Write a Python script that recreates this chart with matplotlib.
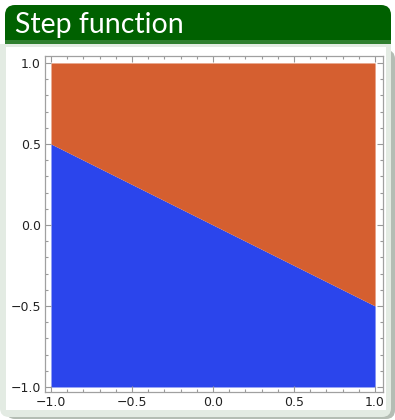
import numpy as np
import matplotlib.pyplot as plt
from matplotlib.patches import FancyBboxPatch, Rectangle
from matplotlib.ticker import MultipleLocator

# region boundary y = -x/2 over the plotted domain
x_vals = [-1.0, 1.0]
boundary = [0.5, -0.5]
y_low, y_high = -1.0, 1.0
tick_vals = [-1.0, -0.5, 0.0, 0.5, 1.0]
tick_labels = ["\u22121.0", "\u22120.5", "0.0", "0.5", "1.0"]
title = "Step function"

W, H = 395, 420
fig = plt.figure(figsize=(W / 100, H / 100), dpi=100)

# background frame in pixel coordinates
bg = fig.add_axes([0, 0, 1, 1])
bg.set_xlim(0, W)
bg.set_ylim(H, 0)
bg.axis("off")

# shadow, light panel, white inner area
bg.add_patch(FancyBboxPatch((6, 50), 389, 369, boxstyle="round,pad=0,rounding_size=9",
                            fc="#b4bdb4", ec="none"))
bg.add_patch(FancyBboxPatch((0, 44), 391, 373, boxstyle="round,pad=0,rounding_size=9",
                            fc="#e3ebe3", ec="none"))
bg.add_patch(Rectangle((0, 44), 391, 20, fc="#e3ebe3", ec="none"))
bg.add_patch(Rectangle((6, 47), 380, 363, fc="white", ec="none"))

# title banner, rounded on top only
bg.add_patch(FancyBboxPatch((5, 5), 386, 39, boxstyle="round,pad=0,rounding_size=10",
                            fc="#006100", ec="none"))
bg.add_patch(Rectangle((5, 30), 386, 14, fc="#006100", ec="none"))
bg.add_patch(Rectangle((5, 40), 386, 4, fc="#2f7f2f", ec="none"))
bg.text(15, 25, title, color="white", fontsize=20.5, va="center", ha="left",
        family="Lato")

ax = fig.add_axes([45 / W, 28 / H, 338 / W, 336 / H])
ax.fill_between(x_vals, y_low, boundary, color="#2b45ec", lw=0)
ax.fill_between(x_vals, boundary, y_high, color="#d55f30", lw=0)
ax.set_xlim(-1.037, 1.049)
ax.set_ylim(-1.031, 1.043)

ax.set_xticks(tick_vals)
ax.set_xticklabels(tick_labels)
ax.set_yticks(tick_vals)
ax.set_yticklabels(tick_labels)
ax.xaxis.set_minor_locator(MultipleLocator(0.1))
ax.yaxis.set_minor_locator(MultipleLocator(0.1))
ax.tick_params(which="both", direction="in", top=True, right=True, color="#999999",
               width=0.8, labelsize=9, labelcolor="#222222")
ax.tick_params(which="major", length=4, pad=3)
ax.tick_params(which="minor", length=2)
for s in ax.spines.values():
    s.set_color("#a0a0a0")
    s.set_linewidth(0.9)

fig.savefig("out.png", dpi=100)
